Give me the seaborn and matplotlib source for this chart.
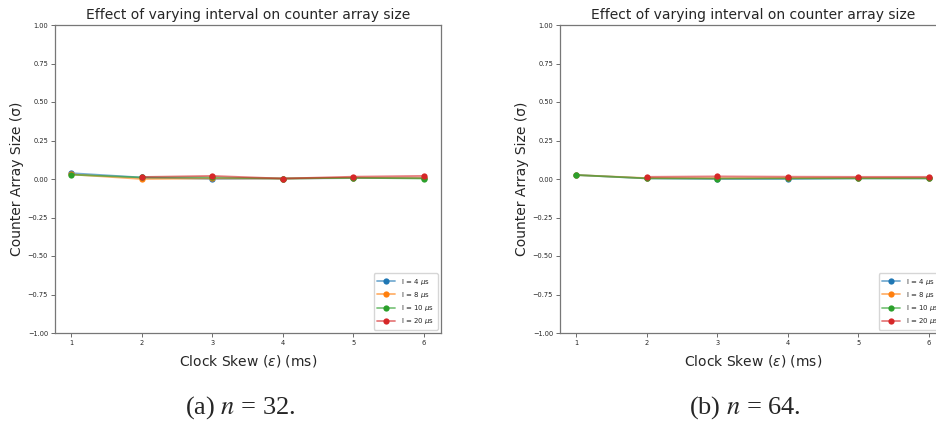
import numpy as np
import matplotlib
matplotlib.use("Agg")
import matplotlib.pyplot as plt
import seaborn as sns
from matplotlib.colors import to_rgba

sns.set_style("white")

skew = [1, 2, 3, 4, 5, 6]
labels = [r"I = 4 $\mu$s", r"I = 8 $\mu$s", r"I = 10 $\mu$s", r"I = 20 $\mu$s"]
colors = ["#1f77b4", "#ff7f0e", "#2ca02c", "#d62728"]

# n = 32
n32_i4 = [0.038, 0.010, 0.001, 0.003, 0.006, 0.006]
n32_i8 = [0.030, 0.000, 0.004, 0.003, 0.008, 0.006]
n32_i10 = [0.028, 0.010, 0.010, 0.003, 0.008, 0.003]
n32_i20 = [np.nan, 0.013, 0.020, 0.003, 0.015, 0.020]

# n = 64
n64_i4 = [0.026, 0.004, 0.000, 0.000, 0.004, 0.004]
n64_i8 = [0.026, 0.006, 0.005, 0.006, 0.006, 0.006]
n64_i10 = [0.026, 0.004, 0.003, 0.004, 0.004, 0.004]
n64_i20 = [np.nan, 0.014, 0.017, 0.015, 0.014, 0.014]

panels = [
    ([n32_i4, n32_i8, n32_i10, n32_i20], "(a) $n$ = 32."),
    ([n64_i4, n64_i8, n64_i10, n64_i20], "(b) $n$ = 64."),
]

fig = plt.figure(figsize=(9.37, 4.25), dpi=100)
lefts = [55 / 937, 560 / 937]

for (series, caption), left in zip(panels, lefts):
    ax = fig.add_axes([left, 92 / 425, 386 / 937, 308 / 425])
    for vals, lab, c in zip(series, labels, colors):
        sns.lineplot(x=skew, y=vals, marker="o", markersize=4.5,
                     markeredgewidth=0, color=c, label=lab, ax=ax)
    for line, c in zip(ax.lines, colors):
        line.set_color(to_rgba(c, 0.6))
        line.set_markerfacecolor(c)
        line.set_markeredgecolor(c)
        line.set_linewidth(1.3)
    ax.set_ylim(-1, 1)
    ax.set_xlim(0.775, 6.24)
    ax.set_yticks(np.arange(-1, 1.01, 0.25))
    ax.set_xticks(skew)
    ax.tick_params(labelsize=4.8, length=3, width=0.6, color="#555555",
                   bottom=True, left=True, pad=2)
    for s in ax.spines.values():
        s.set_color("#777777")
        s.set_linewidth(0.9)
    ax.set_title("Effect of varying interval on counter array size", fontsize=10, pad=4)
    ax.set_xlabel(r"Clock Skew ($\varepsilon$) (ms)", fontsize=10, labelpad=5)
    ax.set_ylabel("Counter Array Size (σ)", fontsize=10, labelpad=3)
    ax.legend(loc="lower right", fontsize=5, handlelength=2.6, borderpad=0.5,
              labelspacing=0.45, handletextpad=0.8)
    fig.text(left + 185 / 937, 0.01, caption, ha="center", va="bottom",
             fontsize=19, family="Liberation Serif",
             math_fontfamily="stix")

fig.savefig("out.png", dpi=100)
